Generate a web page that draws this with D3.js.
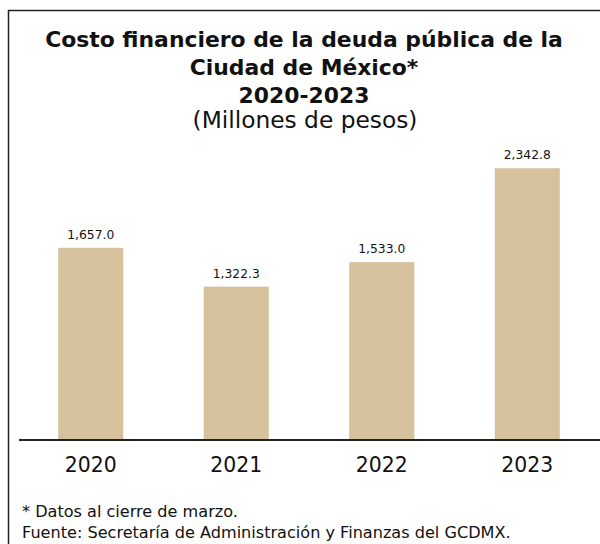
<!DOCTYPE html>
<html>
<head>
<meta charset="utf-8">
<script src="https://cdn.jsdelivr.net/npm/d3@7"></script>
<style>
  html, body { margin: 0; padding: 0; background: #fff; }
  svg { display: block; }
  text { font-family: "DejaVu Sans", sans-serif; fill: #111; }
</style>
</head>
<body>
<script>
const categories = ["2020", "2021", "2022", "2023"];
const values = [1657.0, 1322.3, 1533.0, 2342.8];
const titleLines = ["Costo financiero de la deuda pública de la", "Ciudad de México*", "2020-2023"];
const subtitle = "(Millones de pesos)";
const notes = ["*  Datos al cierre de marzo.", "Fuente: Secretaría de Administración y Finanzas del GCDMX."];

const W = 600, H = 544;
const svg = d3.select("body").append("svg").attr("width", W).attr("height", H);

// fit a text's font size so that its width matches a target width
function fitSize(sel, target) {
  const w = sel.node().getComputedTextLength();
  const fs = parseFloat(sel.attr("font-size"));
  return fs * target / w;
}

// frame (left and top edges visible)
svg.append("path")
  .attr("d", "M8.5,544 L8.5,10.5 L600,10.5")
  .attr("fill", "none").attr("stroke", "#222").attr("stroke-width", 1.5);

// title
const tY = [47, 75, 103];
const titles = titleLines.map((t, i) =>
  svg.append("text").attr("x", 304).attr("y", tY[i])
    .attr("text-anchor", "middle").attr("font-size", 20).attr("font-weight", 700)
    .text(t));
const tfs = fitSize(titles[0], 518);
titles.forEach(s => s.attr("font-size", tfs));

const sub = svg.append("text").attr("x", 305).attr("y", 128)
  .attr("text-anchor", "middle").attr("font-size", 20).attr("font-weight", 400)
  .text(subtitle);
sub.attr("font-size", fitSize(sub, 225));

const x = d3.scaleBand().domain(categories).range([18, 600])
  .paddingInner(0.553).paddingOuter(0.2765);
const y = d3.scaleLinear().domain([0, 2500]).range([440, 150]);

const fmt = d3.format(",.1f");
const g = svg.append("g");
g.selectAll("rect").data(values).join("rect")
  .attr("x", (d, i) => x(categories[i]))
  .attr("y", d => y(d))
  .attr("width", x.bandwidth())
  .attr("height", d => y(0) - y(d))
  .attr("fill", "#d5c19b");

const vals = g.selectAll("text.val").data(values).join("text").attr("class", "val")
  .attr("x", (d, i) => x(categories[i]) + x.bandwidth() / 2)
  .attr("y", d => y(d) - 9)
  .attr("text-anchor", "middle").attr("font-size", 13)
  .text(d => fmt(d));
const vfs = fitSize(d3.select(vals.nodes()[0]), 47);
vals.attr("font-size", vfs);

// x axis
const xAxis = d3.axisBottom(x).tickSize(0).tickPadding(17);
const ax = svg.append("g").attr("transform", "translate(0,440)").call(xAxis);
ax.select(".domain").attr("stroke", "#222").attr("stroke-width", 2).attr("d", "M19,0H600");
const ticks = ax.selectAll("text").attr("font-size", 20).attr("fill", "#111")
  .style("font-family", "'DejaVu Sans', sans-serif");
const yfs = fitSize(d3.select(ticks.nodes()[0]), 52);
ticks.attr("font-size", yfs);

// notes
const n1 = svg.append("text").attr("x", 22).attr("y", 517).attr("font-size", 13).text(notes[0]);
const n2 = svg.append("text").attr("x", 22).attr("y", 538).attr("font-size", 13).text(notes[1]);
const nfs = fitSize(n2, 489);
n1.attr("font-size", nfs);
n2.attr("font-size", nfs);
</script>
</body>
</html>
